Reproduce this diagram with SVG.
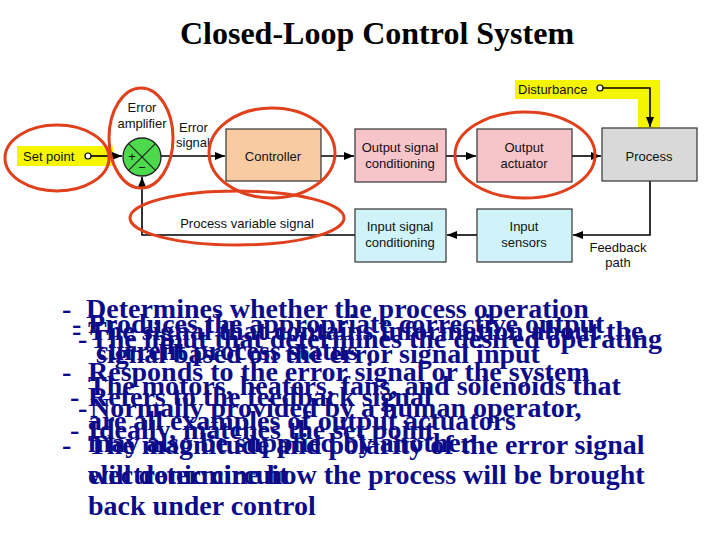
<svg xmlns="http://www.w3.org/2000/svg" width="720" height="540" viewBox="0 0 720 540">
<defs>
<style>
.title{font-family:"Liberation Serif","Times New Roman",serif;font-weight:bold;font-size:32px;fill:#000}
.lbl{font-family:"Liberation Sans",Arial,sans-serif;font-size:13px;fill:#111}
.box{stroke:#333;stroke-width:1.2}
.wire{fill:none;stroke:#000;stroke-width:1.6}
.ring{fill:none;stroke:#e0401c;stroke-width:3}
.body{font-family:"Liberation Serif","Times New Roman",serif;font-weight:bold;font-size:28px;fill:#0c0c8a}
</style>
<marker id="ah" markerUnits="userSpaceOnUse" markerWidth="11" markerHeight="9" refX="10" refY="4" orient="auto">
<path d="M0,0 L10,4 L0,8 z" fill="#000"/>
</marker>
</defs>
<rect width="720" height="540" fill="#fff"/>
<text class="title" x="377" y="44" text-anchor="middle">Closed-Loop Control System</text>

<g id="highlights">
<rect x="17" y="146" width="96" height="20" fill="#f5f500"/>
<path d="M515,80 H660 V128 H638 V99 H515 Z" fill="#f5f500"/>
</g>

<g id="connectors">
<circle cx="88" cy="156" r="3" fill="#fff" stroke="#000" stroke-width="1.2"/>
<line class="wire" x1="91" y1="156" x2="122" y2="156" marker-end="url(#ah)"/>
<line class="wire" x1="161" y1="156" x2="225" y2="156" marker-end="url(#ah)"/>
<line class="wire" x1="321" y1="156" x2="354" y2="156" marker-end="url(#ah)"/>
<line class="wire" x1="446" y1="156" x2="476" y2="156" marker-end="url(#ah)"/>
<line class="wire" x1="572" y1="156" x2="601" y2="156" marker-end="url(#ah)"/>
<circle cx="600" cy="88" r="3" fill="#fff" stroke="#000" stroke-width="1.2"/>
<polyline class="wire" points="603,88 650,88 650,127" marker-end="url(#ah)"/>
<polyline class="wire" points="650,181 650,235 573,235" marker-end="url(#ah)"/>
<line class="wire" x1="477" y1="235" x2="447" y2="235" marker-end="url(#ah)"/>
<polyline class="wire" points="355,235 142,235 142,177" marker-end="url(#ah)"/>
</g>

<g id="setpoint">
<text class="lbl" x="23" y="161" font-size="14">Set point</text>
</g>

<g id="error-amplifier">
<circle cx="142" cy="157" r="19" fill="#4cd94c" stroke="#222" stroke-width="1.3"/>
<line x1="128.6" y1="143.6" x2="155.4" y2="170.4" stroke="#222" stroke-width="1.2"/>
<line x1="155.4" y1="143.6" x2="128.6" y2="170.4" stroke="#222" stroke-width="1.2"/>
<text class="lbl" x="132" y="161" text-anchor="middle" font-size="12">+</text>
<text class="lbl" x="142" y="172" text-anchor="middle" font-size="12">−</text>
<text class="lbl" x="142" y="112" text-anchor="middle">Error</text>
<text class="lbl" x="142" y="128" text-anchor="middle">amplifier</text>
</g>

<g id="error-signal">
<text class="lbl" x="179" y="132">Error</text>
<text class="lbl" x="176" y="147">signal</text>
</g>

<g id="controller">
<rect class="box" x="226" y="129" width="95" height="52" fill="#f9cba2"/>
<text class="lbl" x="273" y="161" text-anchor="middle">Controller</text>
</g>

<g id="output-signal-conditioning">
<rect class="box" x="355" y="129" width="91" height="53" fill="#f7c4ca"/>
<text class="lbl" x="400" y="152" text-anchor="middle">Output signal</text>
<text class="lbl" x="400" y="168" text-anchor="middle">conditioning</text>
</g>

<g id="output-actuator">
<rect class="box" x="477" y="129" width="95" height="53" fill="#f7c4ca"/>
<text class="lbl" x="524" y="152" text-anchor="middle">Output</text>
<text class="lbl" x="524" y="168" text-anchor="middle">actuator</text>
</g>

<g id="process">
<rect class="box" x="602" y="128" width="95" height="53" fill="#d9d9d9"/>
<text class="lbl" x="649" y="161" text-anchor="middle">Process</text>
</g>

<g id="disturbance">
<text class="lbl" x="518" y="94">Disturbance</text>
</g>

<g id="input-signal-conditioning">
<rect class="box" x="355" y="209" width="91" height="53" fill="#cff3f8"/>
<text class="lbl" x="400" y="231" text-anchor="middle">Input signal</text>
<text class="lbl" x="400" y="247" text-anchor="middle">conditioning</text>
</g>

<g id="input-sensors">
<rect class="box" x="477" y="209" width="95" height="53" fill="#cff3f8"/>
<text class="lbl" x="524" y="231" text-anchor="middle">Input</text>
<text class="lbl" x="524" y="247" text-anchor="middle">sensors</text>
</g>

<g id="process-variable-signal">
<text class="lbl" x="247" y="228" text-anchor="middle">Process variable signal</text>
</g>

<g id="feedback-path">
<text class="lbl" x="618" y="252" text-anchor="middle">Feedback</text>
<text class="lbl" x="618" y="267" text-anchor="middle">path</text>
</g>

<g id="rings">
<ellipse class="ring" cx="57" cy="158" rx="52" ry="33"/>
<ellipse class="ring" cx="141" cy="138" rx="32" ry="50"/>
<ellipse class="ring" cx="272" cy="153" rx="63" ry="45"/>
<ellipse class="ring" cx="237" cy="218" rx="107" ry="27"/>
<ellipse class="ring" cx="525" cy="155" rx="70" ry="43"/>
</g>

<g id="notes" class="body">
<text x="62" y="318">-<tspan x="86">Determines whether the process operation</tspan></text>
<text x="72" y="333">-<tspan x="88">Produces the appropriate corrective output</tspan></text>
<text x="72" y="340">-<tspan x="88">The signal that contains information about the</tspan></text>
<text x="78" y="348">-<tspan x="90">The input that determines the desired operating</tspan></text>
<text x="96" y="363">signal based on the error signal input</text>
<text x="96" y="360">current process status</text>
<text x="62" y="381">-<tspan x="88">Responds to the error signal or the system</tspan></text>
<text x="88" y="395">The motors, heaters, fans, and solenoids that</text>
<text x="70" y="406">-<tspan x="88">Refers to the feedback signal</tspan></text>
<text x="78" y="417">-<tspan x="90">Normally provided by a human operator,</tspan></text>
<text x="88" y="430">are all examples of output actuators</text>
<text x="70" y="439">-<tspan x="88">Ideally, matches the set point</tspan></text>
<text x="62" y="454">-<tspan x="88">The magnitude and polarity of the error signal</tspan></text>
<text x="88" y="452">may also be supplied by another</text>
<text x="88" y="484">will determine how the process will be brought</text>
<text x="88" y="484">electronic circuit</text>
<text x="88" y="515">back under control</text>
</g>
</svg>
